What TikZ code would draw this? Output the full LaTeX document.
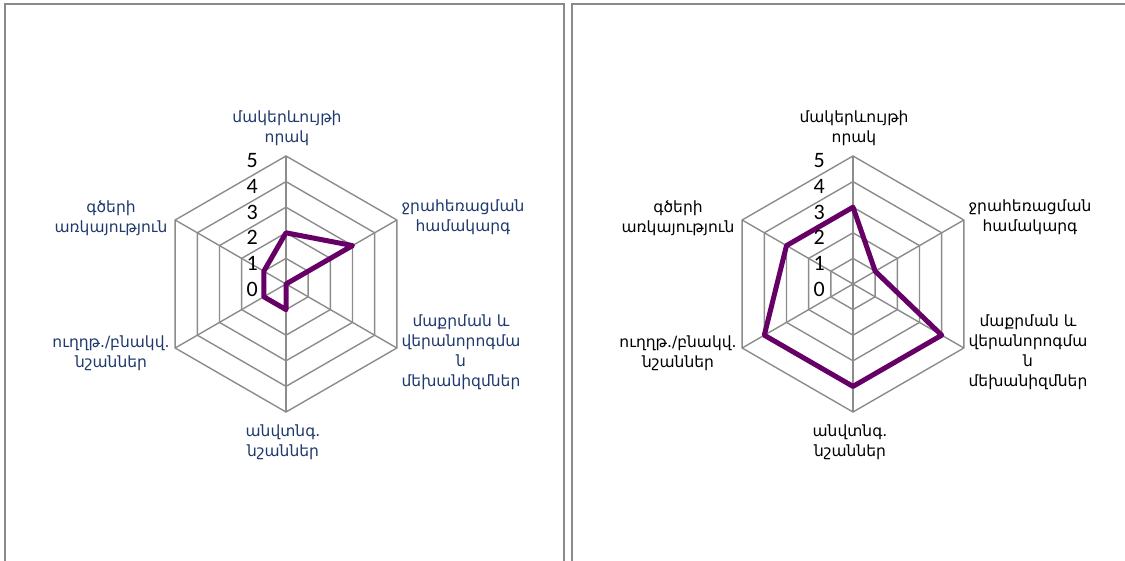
\documentclass[tikz,border=0pt]{standalone}
\usepackage{fontspec}
\newfontfamily\armfont{DejaVu Sans}
\newfontfamily\numfont{Carlito}
\definecolor{labblue}{HTML}{1F3A6E}
\definecolor{datapurple}{HTML}{660066}
\definecolor{gridgray}{HTML}{8C8C8C}
\definecolor{framegray}{HTML}{8A8A8A}
\tikzset{
  gridline/.style={draw=gridgray,line width=1.4pt},
  series/.style={draw=datapurple,line width=5pt,line join=round},
  panelframe/.style={draw=framegray,line width=2pt},
  axlab/.style={font=\armfont\fontsize{15.5}{20}\selectfont,align=center,inner sep=0pt},
  numlab/.style={font=\numfont\fontsize{22}{22}\selectfont,anchor=east,inner sep=0pt}
}
\newcommand\radarchart[4]{%
  % #1 prefix, #2 centre x, #3 label colour, #4 data
  \coordinate (#1c) at (#2,284);
  \foreach \k in {1,...,5}{
    \foreach \i in {0,...,5}{
      \coordinate (#1-\k-\i) at ({#2+sin(60*\i)*25.6*\k},{284-cos(60*\i)*25.6*\k});
    }
    \draw[gridline] (#1-\k-0) -- (#1-\k-1) -- (#1-\k-2) -- (#1-\k-3) -- (#1-\k-4) -- (#1-\k-5) -- cycle;
  }
  \foreach \i in {0,...,5}{\draw[gridline] (#1c) -- (#1-5-\i);}
  \foreach \v [count=\j from 0] in {#4}{
    \coordinate (#1d\j) at ({#2+sin(60*\j)*25.6*\v},{284-cos(60*\j)*25.6*\v});
  }
  \draw[series] (#1d0) -- (#1d1) -- (#1d2) -- (#1d3) -- (#1d4) -- (#1d5) -- cycle;
  \foreach \k in {0,...,5}{
    \node[numlab] (#1n\k) at ({#2-28},{284-25.6*\k+5}) {\k};
  }
  \node[axlab,text=#3] (#1l0) at ({#2+1},128) {մակերևույթի\\որակ};
  \node[axlab,text=#3] (#1l1) at ({#2+177},217) {ջրահեռացման\\համակարգ};
  \node[axlab,text=#3] (#1l2) at ({#2+175},352) {մաքրման և\\վերանորոգմա\\ն\\մեխանիզմներ};
  \node[axlab,text=#3] (#1l3) at ({#2-3},442) {անվտնգ.\\նշաններ};
  \node[axlab,text=#3] (#1l4) at ({#2-175},353) {ուղղթ./բնակվ.\\նշաններ};
  \node[axlab,text=#3] (#1l5) at ({#2-175},218) {գծերի\\առկայություն};
}
\begin{document}
\begin{tikzpicture}[x=1pt,y=-1pt]
\useasboundingbox (0,0) rectangle (1125,561);
\clip (0,0) rectangle (1125,561);
\fill[white] (0,0) rectangle (1125,561);
\draw[panelframe] (4.5,600) -- (4.5,4.5) -- (564,4.5) -- (564,600);
\draw[panelframe] (572,600) -- (572,4.5) -- (1140,4.5);
\radarchart{L}{286}{labblue}{2,3,0,1,1,1}
\radarchart{R}{853}{black}{3,1,4,4,4,3}
\end{tikzpicture}
\end{document}
